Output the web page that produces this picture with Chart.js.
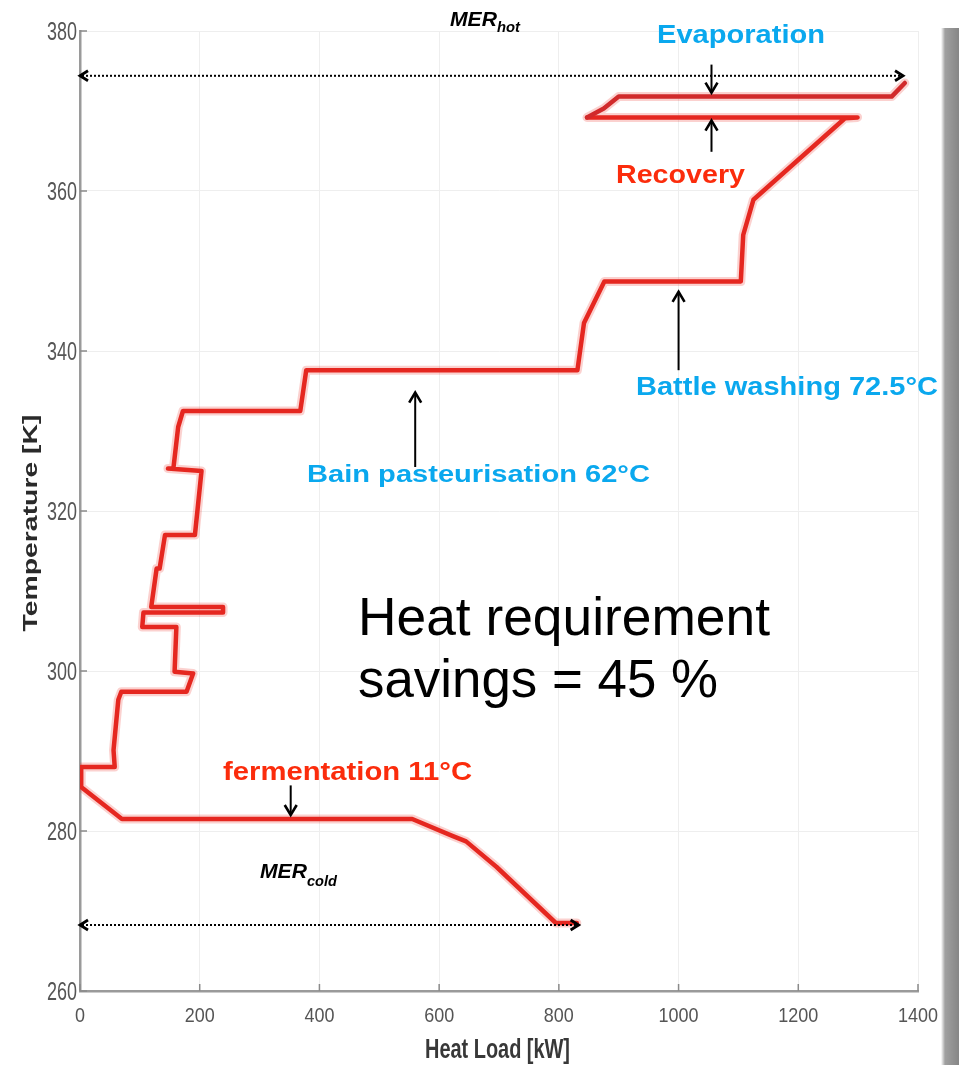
<!DOCTYPE html>
<html>
<head>
<meta charset="utf-8">
<script src="https://cdn.jsdelivr.net/npm/chart.js@4.4.1/dist/chart.umd.min.js"></script>
<style>
  html, body { margin: 0; padding: 0; background: #ffffff; }
  #wrap { position: relative; width: 959px; height: 1065px; overflow: hidden; }
  #c { position: absolute; left: 0; top: 0; }
  #shadow { position: absolute; left: 941px; top: 28px; width: 18px; height: 1037px;
    background: linear-gradient(to right, rgba(160,160,160,0.0), #a0a0a0 4px, #868686 100%); }
</style>
</head>
<body>
<div id="wrap">
<canvas id="c" width="959" height="1065"></canvas>
<div id="shadow"></div>
</div>
<script>
// ---- data (grand composite curve) ----
const heatLoad = [830, 795, 696, 645, 622, 555, 70, 2, 2, 58,
                  56, 64, 69, 178, 189, 158, 161, 104, 106, 239,
                  239, 119, 128, 133, 142, 192, 203, 147, 156, 164,
                  172, 368, 378, 831, 842, 876, 1104, 1108, 1125, 1278,
                  1299, 847, 875, 900, 1356, 1378];
const temperature = [268.5, 268.5, 275.5, 278.7, 279.4, 281.5, 281.5, 285.5, 288.0, 288.0,
                     290.1, 296.4, 297.4, 297.4, 299.7, 299.9, 305.5, 305.5, 307.3, 307.3,
                     308.0, 308.0, 312.8, 312.8, 317.0, 317.0, 325.0, 325.3, 325.3, 330.5,
                     332.5, 332.5, 337.6, 337.6, 343.5, 348.7, 348.7, 354.5, 358.9, 369.1,
                     369.2, 369.2, 370.3, 371.8, 371.8, 373.5];
const xTickValues = [0, 200, 400, 600, 800, 1000, 1200, 1400];
const yTickValues = [260, 280, 300, 320, 340, 360, 380];

// MER ranges (dotted double arrows) in data units
const merHot = { from: 0, to: 1375, temp: 374.4 };
const merCold = { from: 0, to: 833, temp: 268.25 };

const points = heatLoad.map((x, i) => ({ x: x, y: temperature[i] }));

// ---- annotation layout ----
const BLUE = '#0aa8ee';
const RED = '#fb2c0c';
const SANS = '"Liberation Sans", Arial, sans-serif';
const labels = [
  { t: 'Evaporation', x: 657, y: 43, w: 168, font: 'bold 25px ' + SANS, c: BLUE },
  { t: 'Recovery', x: 616, y: 183, w: 129, font: 'bold 25px ' + SANS, c: RED },
  { t: 'Battle washing 72.5°C', x: 636, y: 395, w: 302, font: 'bold 25px ' + SANS, c: BLUE },
  { t: 'Bain pasteurisation 62°C', x: 307, y: 482, w: 343, font: 'bold 24px ' + SANS, c: BLUE },
  { t: 'fermentation 11°C', x: 223, y: 780, w: 249, font: 'bold 25px ' + SANS, c: RED },
  { t: 'Heat requirement', x: 358, y: 635, w: 412, font: '53px ' + SANS, c: '#000' },
  { t: 'savings = 45 %', x: 358, y: 697, w: 360, font: '53px ' + SANS, c: '#000' },
  { t: 'MER', x: 450, y: 26, w: 47, font: 'italic bold 21px ' + SANS, c: '#000' },
  { t: 'hot', x: 497, y: 32, w: 23, font: 'italic bold 14px ' + SANS, c: '#000' },
  { t: 'MER', x: 260, y: 878, w: 47, font: 'italic bold 21px ' + SANS, c: '#000' },
  { t: 'cold', x: 307, y: 886, w: 30, font: 'italic bold 14px ' + SANS, c: '#000' },
  { t: 'Heat Load [kW]', x: 425, y: 1058, w: 145, font: 'bold 28px ' + SANS, c: '#383838' }
];
// solid pointer arrows: x in kW, from/to in K (to = tip)
const pointers = [
  { x: 1055, from: 375.8, to: 372.3 },
  { x: 1055, from: 364.9, to: 368.8 },
  { x: 1000, from: 337.6, to: 347.4 },
  { x: 560, from: 325.5, to: 334.8 },
  { x: 352, from: 285.7, to: 282.0 }
];

function stretchText(ctx, t, x, y, font, color, w, align) {
  ctx.save();
  ctx.font = font;
  ctx.fillStyle = color;
  ctx.textBaseline = 'alphabetic';
  ctx.textAlign = 'left';
  const nat = ctx.measureText(t).width;
  let left = x;
  if (align === 'center') left = x - w / 2;
  else if (align === 'right') left = x - w;
  ctx.translate(left, y);
  ctx.scale(w / nat, 1);
  ctx.fillText(t, 0, 0);
  ctx.restore();
}

function chevron(ctx, x, y, dx, dy, len, half) {
  const px = -dy, py = dx;
  ctx.beginPath();
  ctx.moveTo(x - dx * len + px * half, y - dy * len + py * half);
  ctx.lineTo(x, y);
  ctx.lineTo(x - dx * len - px * half, y - dy * len - py * half);
  ctx.stroke();
}

const annotPlugin = {
  id: 'annot',
  afterDraw(chart) {
    const ctx = chart.ctx;
    const xs = chart.scales.x, ys = chart.scales.y;
    const area = chart.chartArea;

    // inward tick marks and narrow tick labels placed by the scales
    ctx.save();
    ctx.strokeStyle = '#8a8a8a';
    ctx.lineWidth = 1.5;
    xs.ticks.forEach(tk => {
      const p = xs.getPixelForValue(tk.value);
      ctx.beginPath(); ctx.moveTo(p, area.bottom); ctx.lineTo(p, area.bottom - 7); ctx.stroke();
      const s = String(tk.value);
      stretchText(ctx, s, p, area.bottom + 31, '21px ' + SANS, '#555', s.length * 10, 'center');
    });
    ys.ticks.forEach(tk => {
      const p = ys.getPixelForValue(tk.value);
      ctx.beginPath(); ctx.moveTo(area.left, p); ctx.lineTo(area.left + 7, p); ctx.stroke();
      const s = String(tk.value);
      stretchText(ctx, s, area.left - 3, p + 9, '26px ' + SANS, '#555', s.length * 10, 'right');
    });
    ctx.restore();

    // dotted MER arrows
    [merHot, merCold].forEach(m => {
      const x1 = xs.getPixelForValue(m.from), x2 = xs.getPixelForValue(m.to);
      const y = ys.getPixelForValue(m.temp);
      ctx.save();
      ctx.strokeStyle = '#000';
      ctx.lineWidth = 2;
      ctx.setLineDash([2, 2]);
      ctx.beginPath(); ctx.moveTo(x1 + 2, y); ctx.lineTo(x2 - 2, y); ctx.stroke();
      ctx.setLineDash([]);
      ctx.lineWidth = 2.8;
      chevron(ctx, x1, y, -1, 0, 8, 5);
      chevron(ctx, x2, y, 1, 0, 8, 5);
      ctx.restore();
    });

    // solid pointer arrows
    pointers.forEach(a => {
      const x = xs.getPixelForValue(a.x);
      const y1 = ys.getPixelForValue(a.from), y2 = ys.getPixelForValue(a.to);
      const dir = y2 > y1 ? 1 : -1;
      ctx.save();
      ctx.strokeStyle = '#000';
      ctx.lineWidth = 2;
      ctx.beginPath(); ctx.moveTo(x, y1); ctx.lineTo(x, y2 - dir * 1); ctx.stroke();
      ctx.lineWidth = 2.6;
      chevron(ctx, x, y2, 0, dir, 10, 6);
      ctx.restore();
    });

    // text labels
    labels.forEach(l => stretchText(ctx, l.t, l.x, l.y, l.font, l.c, l.w));

    // y axis title (rotated)
    ctx.save();
    ctx.translate(37, 523);
    ctx.rotate(-Math.PI / 2);
    ctx.font = 'bold 21px ' + SANS;
    const t = 'Temperature [K]';
    const nat = ctx.measureText(t).width;
    ctx.scale(217 / nat, 1);
    ctx.fillStyle = '#2a2a2a';
    ctx.textAlign = 'center';
    ctx.textBaseline = 'alphabetic';
    ctx.fillText(t, 0, 0);
    ctx.restore();
  }
};

const upperStart = 41; // segments from here on (evaporation leg) are drawn darker
new Chart(document.getElementById('c'), {
  type: 'scatter',
  data: {
    datasets: [{
      data: points,
      showLine: true,
      borderColor: 'rgba(235,45,35,0.22)',
      borderWidth: 9,
      pointRadius: 0,
      tension: 0,
      borderJoinStyle: 'round',
      borderCapStyle: 'round'
    }, {
      data: points,
      showLine: true,
      borderColor: '#e3261f',
      segment: { borderColor: c => (c.p0DataIndex >= upperStart ? '#c92a2e' : undefined) },
      borderWidth: 4.5,
      pointRadius: 0,
      tension: 0,
      borderJoinStyle: 'round',
      borderCapStyle: 'round'
    }]
  },
  options: {
    responsive: false,
    animation: false,
    devicePixelRatio: 1,
    layout: { padding: { left: 0, top: 31, right: 41, bottom: 0 } },
    plugins: { legend: { display: false }, tooltip: { enabled: false } },
    scales: {
      x: {
        type: 'linear', min: 0, max: 1400,
        afterFit: s => { s.height = 74; },
        afterBuildTicks: s => { s.ticks = xTickValues.map(v => ({ value: v })); },
        grid: { color: '#eeeeee', lineWidth: 1, drawTicks: false },
        border: { display: true, color: '#9a9a9a', width: 2.5 },
        ticks: { display: false }
      },
      y: {
        type: 'linear', min: 260, max: 380,
        afterFit: s => { s.width = 80; },
        afterBuildTicks: s => { s.ticks = yTickValues.map(v => ({ value: v })); },
        grid: { color: '#eeeeee', lineWidth: 1, drawTicks: false },
        border: { display: true, color: '#9a9a9a', width: 2.5 },
        ticks: { display: false }
      }
    }
  },
  plugins: [annotPlugin]
});
</script>
</body>
</html>
